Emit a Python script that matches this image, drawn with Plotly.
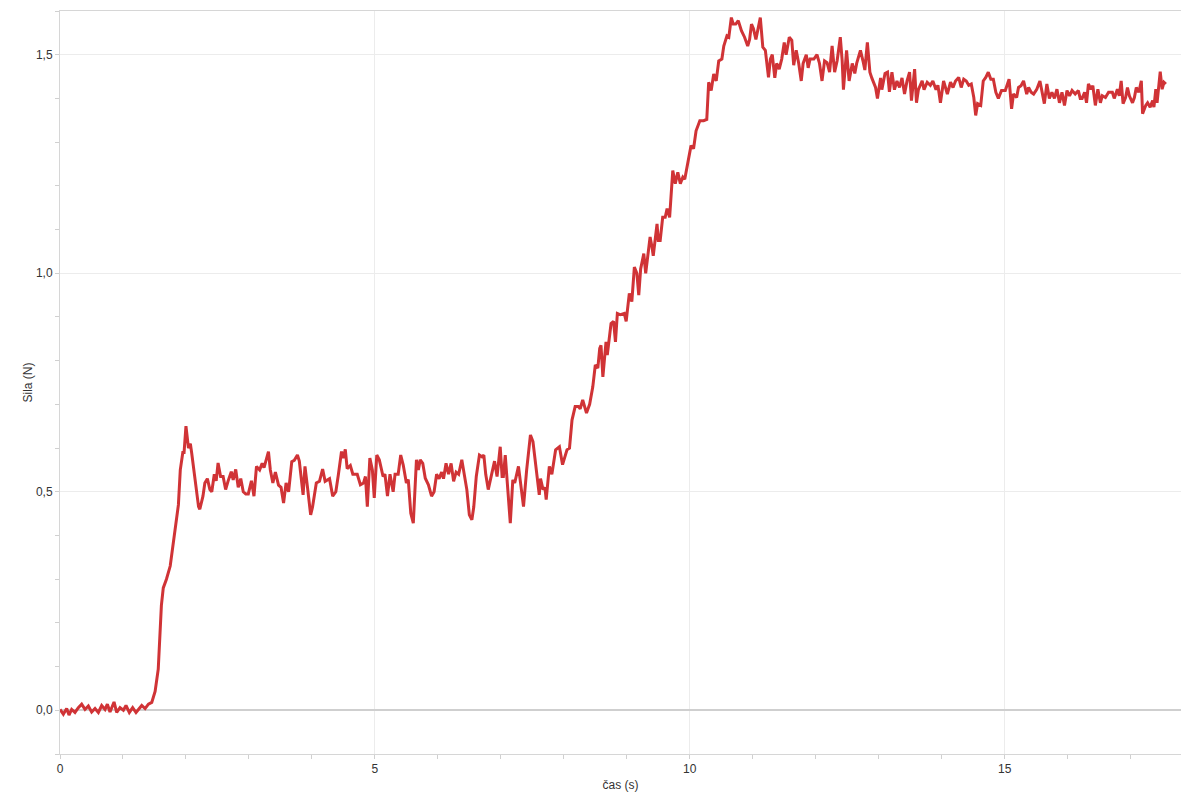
import plotly.graph_objects as go

# time (s)
cas = [
    0.0, 0.053, 0.106, 0.143, 0.185, 0.238, 0.291, 0.344, 0.397, 0.45, 0.503, 0.556, 0.609, 0.662, 0.715,
    0.752, 0.794, 0.858, 0.9, 0.953, 1.006, 1.048, 1.101, 1.154, 1.207, 1.261, 1.298, 1.351, 1.404, 1.457,
    1.51, 1.56, 1.59, 1.61, 1.64, 1.69, 1.75, 1.80, 1.85, 1.88, 1.91, 1.95, 1.97, 2.0, 2.04, 2.07, 2.09,
    2.14, 2.20, 2.22, 2.27, 2.30, 2.34, 2.38, 2.41, 2.45, 2.48, 2.51, 2.55, 2.59, 2.63, 2.67, 2.72, 2.75,
    2.79, 2.83, 2.87, 2.91, 2.95, 2.99, 3.04, 3.08, 3.12, 3.17, 3.21, 3.24, 3.31, 3.34, 3.38, 3.42, 3.47,
    3.51, 3.55, 3.59, 3.63, 3.68, 3.72, 3.77, 3.80, 3.86, 3.89, 3.93, 3.98, 4.01, 4.07, 4.12, 4.17, 4.21,
    4.28, 4.33, 4.38, 4.42, 4.47, 4.50, 4.53, 4.56, 4.61, 4.65, 4.72, 4.77, 4.82, 4.85, 4.88, 4.92, 4.96,
    4.99, 5.03, 5.07, 5.13, 5.16, 5.20, 5.24, 5.29, 5.32, 5.37, 5.41, 5.45, 5.50, 5.53, 5.57, 5.61, 5.66,
    5.69, 5.72, 5.76, 5.80, 5.85, 5.90, 5.94, 5.98, 6.02, 6.06, 6.09, 6.13, 6.17, 6.21, 6.25, 6.29, 6.33,
    6.38, 6.41, 6.46, 6.50, 6.54, 6.57, 6.61, 6.66, 6.70, 6.73, 6.76, 6.80, 6.86, 6.90, 6.94, 6.99, 7.02,
    7.04, 7.07, 7.10, 7.15, 7.19, 7.22, 7.28, 7.36, 7.41, 7.47, 7.51, 7.55, 7.57, 7.61, 7.63, 7.67, 7.70,
    7.72, 7.77, 7.81, 7.87, 7.93, 7.98, 8.05, 8.09, 8.13, 8.18, 8.23, 8.26, 8.30, 8.36, 8.41, 8.46, 8.50,
    8.54, 8.57, 8.59, 8.62, 8.67, 8.69, 8.75, 8.79, 8.82, 8.85, 8.90, 8.96, 8.99, 9.04, 9.08, 9.12, 9.16,
    9.19, 9.22, 9.27, 9.30, 9.33, 9.37, 9.40, 9.42, 9.48, 9.50, 9.53, 9.57, 9.61, 9.64, 9.68, 9.70, 9.73,
    9.77, 9.81, 9.85, 9.89, 9.92, 9.96, 10.02, 10.06, 10.10, 10.16, 10.22, 10.27, 10.30, 10.34, 10.38,
    10.42, 10.46, 10.51, 10.54, 10.59, 10.62, 10.66, 10.69, 10.73, 10.77, 10.82, 10.87, 10.92, 10.95,
    10.98, 11.01, 11.05, 11.08, 11.12, 11.16, 11.20, 11.25, 11.28, 11.31, 11.35, 11.38, 11.42, 11.46,
    11.50, 11.53, 11.58, 11.62, 11.65, 11.69, 11.73, 11.77, 11.80, 11.85, 11.88, 11.91, 11.97, 12.02,
    12.06, 12.10, 12.14, 12.18, 12.22, 12.26, 12.30, 12.34, 12.39, 12.42, 12.44, 12.49, 12.53, 12.58,
    12.62, 12.65, 12.71, 12.75, 12.78, 12.82, 12.86, 12.89, 12.95, 12.98, 13.03, 13.05, 13.10, 13.14,
    13.17, 13.21, 13.25, 13.29, 13.33, 13.37, 13.41, 13.45, 13.49, 13.52, 13.57, 13.60, 13.63, 13.69,
    13.72, 13.77, 13.82, 13.86, 13.91, 13.94, 13.98, 14.03, 14.09, 14.14, 14.18, 14.22, 14.27, 14.31,
    14.35, 14.39, 14.43, 14.47, 14.51, 14.54, 14.57, 14.62, 14.66, 14.70, 14.74, 14.78, 14.82, 14.86,
    14.90, 14.95, 15.01, 15.07, 15.11, 15.14, 15.19, 15.22, 15.26, 15.30, 15.35, 15.38, 15.42, 15.46,
    15.51, 15.56, 15.59, 15.63, 15.67, 15.71, 15.75, 15.79, 15.83, 15.87, 15.91, 15.95, 15.99, 16.03,
    16.07, 16.12, 16.17, 16.20, 16.23, 16.27, 16.30, 16.33, 16.37, 16.40, 16.44, 16.48, 16.52, 16.55,
    16.60, 16.65, 16.71, 16.74, 16.79, 16.82, 16.85, 16.88, 16.92, 16.95, 16.98, 17.03, 17.06, 17.09,
    17.13, 17.17, 17.19, 17.24, 17.27, 17.31, 17.35, 17.37, 17.40, 17.42, 17.47, 17.50, 17.53, 17.56,
]

# force (N)
sila = [
    0.002, -0.009, 0.004, -0.011, 0.002, -0.005, 0.006, 0.014, 0.002, 0.010, -0.004, 0.004, -0.005, 0.011, 0.002,
    0.014, -0.004, 0.019, -0.005, 0.006, 0.0, 0.011, -0.005, 0.006, -0.005, 0.004, 0.011, 0.004, 0.014, 0.018,
    0.043, 0.094, 0.17, 0.24, 0.28, 0.30, 0.33, 0.38, 0.44, 0.47, 0.55, 0.59, 0.59, 0.65, 0.60, 0.61, 0.59,
    0.527, 0.466, 0.46, 0.49, 0.52, 0.53, 0.505, 0.50, 0.54, 0.525, 0.566, 0.535, 0.535, 0.505, 0.525, 0.546, 0.527,
    0.551, 0.51, 0.53, 0.50, 0.495, 0.495, 0.525, 0.49, 0.558, 0.55, 0.565, 0.555, 0.592, 0.55, 0.52, 0.545, 0.515,
    0.51, 0.474, 0.52, 0.50, 0.569, 0.572, 0.584, 0.57, 0.493, 0.558, 0.51, 0.447, 0.465, 0.52, 0.524, 0.552, 0.524,
    0.53, 0.49, 0.50, 0.539, 0.592, 0.577, 0.597, 0.553, 0.56, 0.54, 0.54, 0.516, 0.52, 0.535, 0.466, 0.577, 0.55,
    0.486, 0.584, 0.573, 0.535, 0.54, 0.49, 0.54, 0.50, 0.54, 0.54, 0.584, 0.561, 0.52, 0.528, 0.451, 0.428, 0.573,
    0.55, 0.573, 0.565, 0.531, 0.516, 0.49, 0.50, 0.54, 0.53, 0.545, 0.53, 0.565, 0.54, 0.565, 0.524, 0.545, 0.54,
    0.573, 0.55, 0.505, 0.447, 0.436, 0.465, 0.535, 0.584, 0.58, 0.584, 0.54, 0.505, 0.54, 0.57, 0.535, 0.603, 0.535,
    0.535, 0.584, 0.527, 0.428, 0.527, 0.52, 0.558, 0.466, 0.55, 0.63, 0.615, 0.566, 0.555, 0.493, 0.53, 0.505, 0.51,
    0.482, 0.558, 0.54, 0.596, 0.603, 0.562, 0.596, 0.60, 0.664, 0.695, 0.695, 0.69, 0.71, 0.68, 0.70, 0.74, 0.79,
    0.783, 0.828, 0.835, 0.763, 0.843, 0.813, 0.885, 0.89, 0.843, 0.908, 0.905, 0.908, 0.89, 0.954, 0.935, 1.014, 1.0,
    0.95, 1.01, 1.045, 1.0, 1.04, 1.083, 1.06, 1.04, 1.113, 1.075, 1.075, 1.128, 1.128, 1.148, 1.128, 1.174, 1.235,
    1.205, 1.231, 1.205, 1.22, 1.215, 1.25, 1.292, 1.285, 1.326, 1.349, 1.349, 1.352, 1.437, 1.418, 1.456,
    1.44, 1.486, 1.49, 1.52, 1.543, 1.54, 1.585, 1.57, 1.57, 1.578, 1.555, 1.54, 1.52, 1.535,
    1.57, 1.56, 1.535, 1.56, 1.585, 1.517, 1.51, 1.448, 1.49, 1.50, 1.447, 1.48, 1.467, 1.49,
    1.528, 1.50, 1.54, 1.533, 1.476, 1.51, 1.48, 1.44, 1.48, 1.50, 1.47, 1.49, 1.49, 1.50,
    1.48, 1.44, 1.486, 1.482, 1.46, 1.52, 1.46, 1.486, 1.54, 1.486, 1.42, 1.51, 1.44, 1.48,
    1.457, 1.48, 1.51, 1.486, 1.465, 1.528, 1.46, 1.447, 1.425, 1.40, 1.447, 1.42, 1.457, 1.46,
    1.415, 1.46, 1.42, 1.44, 1.425, 1.447, 1.41, 1.44, 1.46, 1.395, 1.467, 1.39, 1.42, 1.44,
    1.42, 1.437, 1.43, 1.44, 1.42, 1.43, 1.39, 1.44, 1.41, 1.437, 1.425, 1.44, 1.448, 1.425,
    1.444, 1.44, 1.43, 1.433, 1.402, 1.361, 1.388, 1.384, 1.44, 1.448, 1.46, 1.444, 1.444, 1.414,
    1.40, 1.418, 1.418, 1.444, 1.376, 1.41, 1.402, 1.425, 1.429, 1.44, 1.41, 1.425, 1.414, 1.41,
    1.421, 1.44, 1.418, 1.388, 1.433, 1.40, 1.414, 1.40, 1.421, 1.39, 1.414, 1.384, 1.418, 1.406,
    1.418, 1.41, 1.418, 1.40, 1.40, 1.414, 1.39, 1.433, 1.421, 1.429, 1.384, 1.421, 1.39, 1.406,
    1.402, 1.414, 1.414, 1.40, 1.421, 1.406, 1.44, 1.388, 1.402, 1.425, 1.406, 1.39, 1.402, 1.425,
    1.414, 1.44, 1.365, 1.384, 1.39, 1.38, 1.395, 1.38, 1.421, 1.39, 1.461, 1.421, 1.437, 1.433,
]

x_ticks = [0, 5, 10, 15]
x_ticklabels = ["0", "5", "10", "15"]
y_ticks = [0.0, 0.5, 1.0, 1.5]
y_ticklabels = ["0,0", "0,5", "1,0", "1,5"]

fig = go.Figure()
fig.add_trace(go.Scatter(
    x=cas, y=sila, mode="lines",
    line=dict(color="#d03336", width=3),
    showlegend=False,
))

axis_font = dict(family="Liberation Sans, Arial, sans-serif", size=12, color="#333333")
title_font = dict(family="Liberation Sans, Arial, sans-serif", size=12, color="#333333")

fig.update_layout(
    width=1181, height=792,
    margin=dict(l=60, r=0, t=11, b=38),
    paper_bgcolor="white", plot_bgcolor="white",
    font=axis_font,
    xaxis=dict(
        range=[0, 17.8], automargin=False,
        tickmode="array", tickvals=x_ticks, ticktext=x_ticklabels,
        showgrid=True, gridcolor="#ececec", gridwidth=1,
        zeroline=False,
        showline=True, linecolor="#d6d6d6", linewidth=1, mirror=True,
        ticks="outside", ticklen=4, tickcolor="#d0d0d0",
        minor=dict(dtick=1, tick0=0, ticks="outside", ticklen=4, tickcolor="#d0d0d0", showgrid=False),
        title=dict(text="čas (s)", font=title_font, standoff=11),
        tickfont=axis_font,
    ),
    yaxis=dict(
        range=[-0.1, 1.6], automargin=False,
        tickmode="array", tickvals=y_ticks, ticktext=y_ticklabels,
        showgrid=True, gridcolor="#ececec", gridwidth=1,
        zeroline=True, zerolinecolor="#cfcfcf", zerolinewidth=2,
        showline=True, linecolor="#d6d6d6", linewidth=1, mirror=True,
        ticks="outside", ticklen=4, tickcolor="#d0d0d0",
        minor=dict(dtick=0.1, tick0=0, ticks="outside", ticklen=4, tickcolor="#d0d0d0", showgrid=False),
        title=dict(text="Sila (N)", font=title_font, standoff=0),
        tickfont=axis_font,
    ),
)

fig.write_html(
    "out.html",
    config={"displayModeBar": False},
    post_script="document.body.style.margin='0';document.body.style.overflow='hidden';",
)
